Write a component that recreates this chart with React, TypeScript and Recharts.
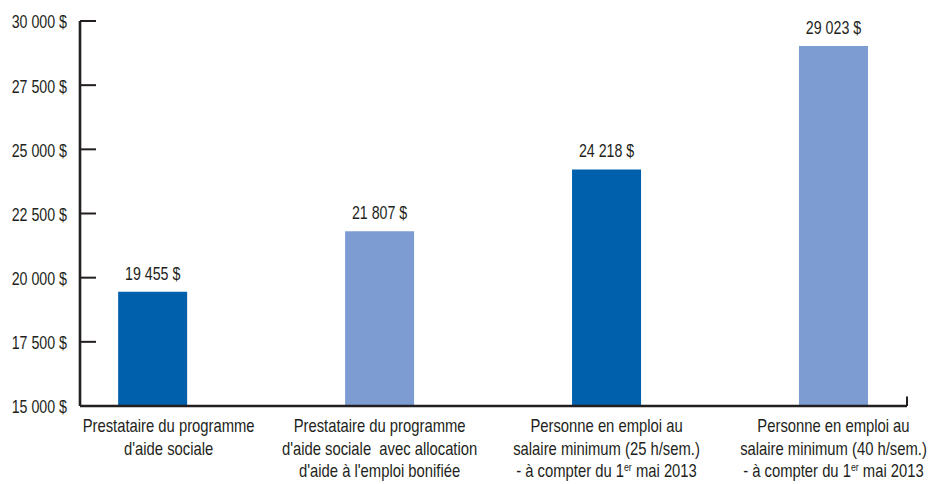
import React from "react";
import {
  BarChart,
  Bar,
  XAxis,
  YAxis,
  Cell,
  LabelList,
  ReferenceLine,
} from "recharts";

// Revenu disponible annuel selon la situation
const categories: string[][] = [
  ["Prestataire du programme", "d'aide sociale"],
  ["Prestataire du programme", "d'aide sociale  avec allocation", "d'aide à l'emploi bonifiée"],
  ["Personne en emploi au", "salaire minimum (25 h/sem.)", "- à compter du 1er mai 2013"],
  ["Personne en emploi au", "salaire minimum (40 h/sem.)", "- à compter du 1er mai 2013"],
];
const revenus = [19455, 21807, 24218, 29023];
const barColors = ["#0060AB", "#7D9DD2", "#0060AB", "#7D9DD2"];
const yTicks = [15000, 17500, 20000, 22500, 25000, 27500, 30000];

const data = revenus.map((v, i) => ({ i, revenu: v }));

const FONT = "'Liberation Sans', Arial, sans-serif";
const INK = "#231F20";
const X_DOMAIN: [number, number] = [-0.32, 3.324];
const Y_DOMAIN: [number, number] = [15000, 30000];
const FIRST_LABEL_SHIFT = 16; // keeps the first category clear of the y-axis labels

const money = (v: number) =>
  `${Math.floor(v / 1000)} ${String(v % 1000).padStart(3, "0")} $`;

// Text drawn in a condensed style by scaling the glyphs horizontally
const CondText = ({
  x,
  y,
  anchor,
  size,
  squeeze,
  dy,
  children,
}: {
  x: number;
  y: number;
  anchor: "start" | "middle" | "end";
  size: number;
  squeeze: number;
  dy?: string;
  children: React.ReactNode;
}) => (
  <text
    transform={`translate(${x},${y}) scale(${squeeze},1)`}
    x={0}
    y={0}
    dy={dy}
    textAnchor={anchor}
    fill={INK}
    fontSize={size}
    fontFamily={FONT}
    style={{ whiteSpace: "pre" }}
  >
    {children}
  </text>
);

const YTick = (props: any) => {
  const { x, y, payload } = props;
  const axisX = x + 13;
  return (
    <g>
      <line x1={axisX} x2={axisX + 16} y1={y} y2={y} stroke={INK} strokeWidth={2} />
      <CondText x={x} y={y + 1} dy="0.36em" anchor="end" size={18} squeeze={0.79}>
        {money(payload.value)}
      </CondText>
    </g>
  );
};

const renderLine = (line: string) => {
  const idx = line.indexOf("1er");
  if (idx < 0) return line;
  return (
    <>
      {line.slice(0, idx + 1)}
      <tspan dy={-6} fontSize={11}>er</tspan>
      <tspan dy={6}>{line.slice(idx + 3)}</tspan>
    </>
  );
};

const XTick = (props: any) => {
  const { x, y, payload } = props;
  const k = Math.round(payload.value);
  const lines = categories[k] || [];
  const cx = x + (k === 0 ? FIRST_LABEL_SHIFT : 0);
  return (
    <g>
      {lines.map((line, j) => (
        <CondText
          key={j}
          x={cx}
          y={y + 26 + j * 22.7}
          anchor="middle"
          size={18.5}
          squeeze={0.8}
        >
          {renderLine(line)}
        </CondText>
      ))}
    </g>
  );
};

const ValueLabel = (props: any) => {
  const { x, y, width, value } = props;
  return (
    <CondText
      x={Number(x) + Number(width) / 2}
      y={Number(y) - 12}
      anchor="middle"
      size={18}
      squeeze={0.79}
    >
      {money(Number(value))}
    </CondText>
  );
};

export default function App() {
  return (
    <div style={{ position: "absolute", left: 0, top: 0, background: "#fff" }}>
      <BarChart
        width={930}
        height={484}
        data={data}
        margin={{ top: 21, right: 23, bottom: 0, left: 0 }}
      >
        <XAxis
          dataKey="i"
          type="number"
          domain={X_DOMAIN}
          allowDataOverflow
          ticks={[0, 1, 2, 3]}
          interval={0}
          height={78}
          tickLine={false}
          tickSize={0}
          tickMargin={0}
          axisLine={{ stroke: INK, strokeWidth: 2.6 }}
          tick={<XTick />}
        />
        <YAxis
          type="number"
          domain={Y_DOMAIN}
          allowDataOverflow
          ticks={yTicks}
          interval={0}
          width={80}
          tickLine={false}
          tickSize={0}
          tickMargin={13}
          axisLine={{ stroke: INK, strokeWidth: 2.6 }}
          tick={<YTick />}
        />
        <ReferenceLine
          segment={[
            { x: X_DOMAIN[1], y: Y_DOMAIN[0] },
            { x: X_DOMAIN[1], y: 15370 },
          ]}
          stroke={INK}
          strokeWidth={2}
        />
        <Bar dataKey="revenu" barSize={69} isAnimationActive={false}>
          {data.map((d, i) => (
            <Cell key={i} fill={barColors[i]} />
          ))}
          <LabelList dataKey="revenu" content={<ValueLabel />} />
        </Bar>
      </BarChart>
    </div>
  );
}
